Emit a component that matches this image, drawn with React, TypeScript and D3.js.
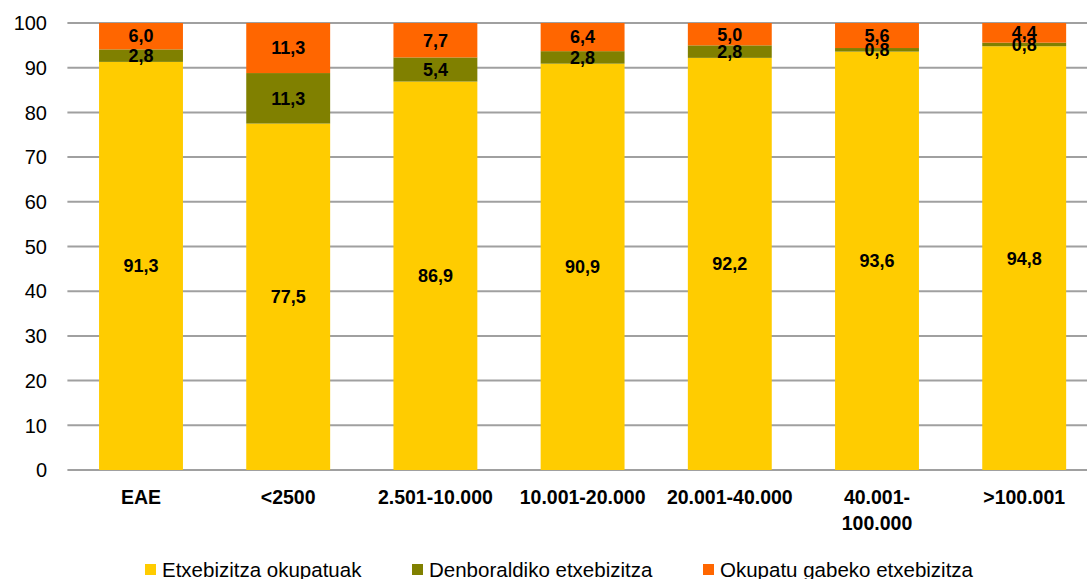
import React from "react";
import * as d3 from "d3";

const categories = ["EAE", "<2500", "2.501-10.000", "10.001-20.000", "20.001-40.000", "40.001-\n100.000", ">100.001"];
const occupied = [91.3, 77.5, 86.9, 90.9, 92.2, 93.6, 94.8];
const seasonal = [2.8, 11.3, 5.4, 2.8, 2.8, 0.8, 0.8];
const empty = [6.0, 11.3, 7.7, 6.4, 5.0, 5.6, 4.4];
const seriesNames = ["Etxebizitza okupatuak", "Denboraldiko etxebizitza", "Okupatu gabeko etxebizitza"];
const seriesColors = ["#FFCC00", "#808000", "#FF6600"];
const yTicks = [0, 10, 20, 30, 40, 50, 60, 70, 80, 90, 100];

export default function App() {
  const W = 1087, H = 579;
  const left = 67.4, right = 1097.8, top = 23, bottom = 470;
  const x = d3.scaleBand<string>().domain(categories).range([left, right]).paddingInner(0.43).paddingOuter(0.215);
  const y = d3.scaleLinear().domain([0, 100]).range([bottom, top]);
  const series = [occupied, seasonal, empty];
  const fmt = (v: number) => v.toFixed(1).replace(".", ",");
  const legendX = [145, 412, 703];

  return (
    <svg width={W} height={H} style={{ position: "absolute", left: 0, top: 0, fontFamily: "Liberation Sans, Arial, sans-serif" }}>
      {yTicks.map((t) => (
        <g key={t}>
          <line x1={left} x2={W} y1={y(t)} y2={y(t)} stroke="#A0A0A0" strokeWidth={2} />
          <text x={47} y={y(t)} dy="0.36em" textAnchor="end" fontSize={20} fill="#000">{t}</text>
        </g>
      ))}
      {categories.map((c, i) => {
        let base = 0;
        const bx = x(c)!;
        return (
          <g key={c}>
            {series.map((s, k) => {
              const v = s[i];
              const y0 = y(base);
              const y1 = y(Math.min(base + v, 100));
              base += v;
              return <rect key={k} x={bx} width={x.bandwidth()} y={y1} height={y0 - y1} fill={seriesColors[k]} />;
            })}
          </g>
        );
      })}
      {categories.map((c, i) => {
        let base = 0;
        const cx = x(c)! + x.bandwidth() / 2;
        return (
          <g key={c + "l"}>
            {series.map((s, k) => {
              const v = s[i];
              const mid = y(Math.min(base + v / 2, 100));
              base += v;
              return (
                <text key={k} x={cx} y={mid} dy="0.36em" textAnchor="middle" fontSize={18} fontWeight="bold" fill="#000">{fmt(v)}</text>
              );
            })}
          </g>
        );
      })}
      {categories.map((c) => {
        const lines = c.split("\n");
        const cx = x(c)! + x.bandwidth() / 2;
        return (
          <text key={c + "c"} x={cx} y={497} textAnchor="middle" fontSize={19.5} fontWeight="bold" fill="#000">
            {lines.map((l, j) => (
              <tspan key={j} x={cx} dy={j === 0 ? "0.36em" : 26}>{l}</tspan>
            ))}
          </text>
        );
      })}
      {seriesNames.map((n, k) => (
        <g key={n}>
          <rect x={legendX[k]} y={564} width={11} height={11} fill={seriesColors[k]} />
          <text x={legendX[k] + 17} y={570} dy="0.36em" fontSize={20.5} fill="#000">{n}</text>
        </g>
      ))}
    </svg>
  );
}
